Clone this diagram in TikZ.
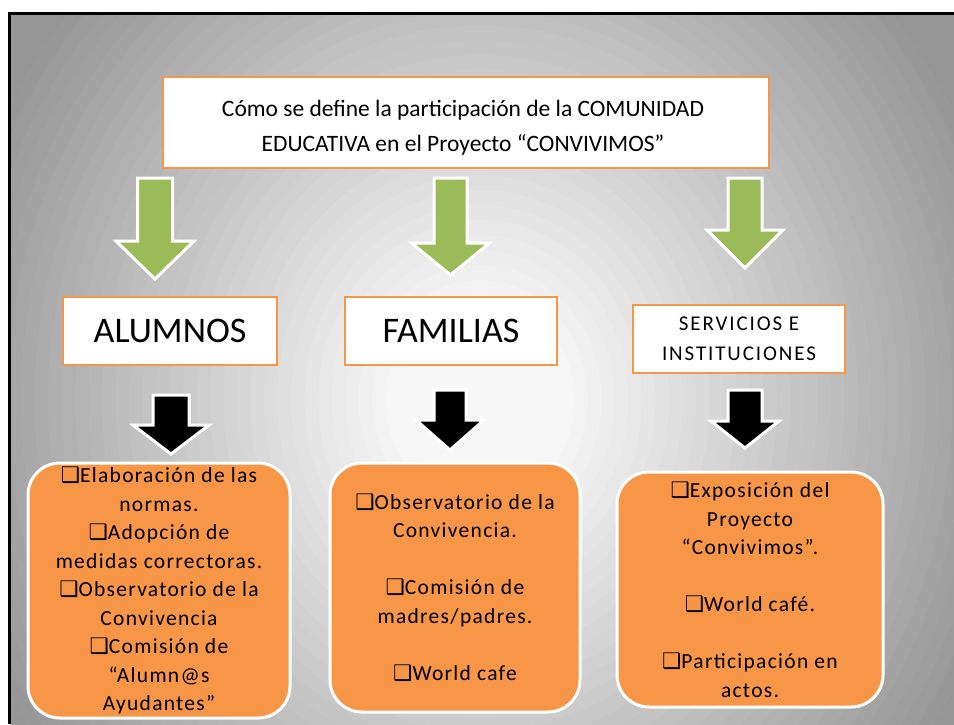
\documentclass[tikz,border=0pt]{standalone}
\usepackage{fontspec}
\setmainfont{Carlito}
\newfontfamily\dvs{DejaVu Sans}
\newfontfamily\spc[LetterSpace=6]{Carlito}
\newfontfamily\spcw[LetterSpace=9]{Carlito}
\definecolor{orng}{HTML}{F79646}
\definecolor{grn}{HTML}{9BBB59}
\newcommand\bx{{\dvs\char"2751}}
\newcommand\blockarrow[7]{%
  \filldraw[fill=#7, draw=white, line width=3pt, line join=miter]
    ({#1-#3},#2) -- ({#1+#3},#2) -- ({#1+#3},#4) -- ({#1+#5},#4) -- (#1,#6)
    -- ({#1-#5},#4) -- ({#1-#3},#4) -- cycle;}
\tikzset{
  headbox/.style={draw=orng, line width=2.5pt, fill=white, inner sep=0pt, align=center},
  itembox/.style={fill=orng, draw=white, line width=3pt, rounded corners=32pt,
    inner sep=0pt, align=center, font=\spc\fontsize{21.5}{28.5}\selectfont},
}
\begin{document}
\begin{tikzpicture}[x=1pt,y=-1pt]
\useasboundingbox (0,0) rectangle (954,724);
\fill[white] (0,0) rectangle (954,724);
\begin{scope}
  \clip (11,15) rectangle (954,724);
  \fill[black!41] (11,15) rectangle (954,724);
  \foreach \k in {46,45,...,1}{%
    \pgfmathsetmacro\rr{\k/40}%
    \pgfmathsetmacro\rm{(\k-0.5)/40}%
    \pgfmathsetmacro\pp{min(41, (\rm<0.15) ? 3 : 3+38*(\rm-0.15)/0.85)}%
    \fill[black!\pp] (480,400) ellipse [x radius={\rr*540}, y radius={\rr*600}];
  }
\end{scope}
\fill[black] (8,12) rectangle (954,15);
\fill[black] (8,12) rectangle (11,724);

% title
\node[headbox, minimum width=606pt, minimum height=91pt] (top) at (466,122.5) {};
\node[align=center, inner sep=0pt, font=\fontsize{23.5}{35}\selectfont]
  (toptext) at ([yshift=-5pt,xshift=-3pt]top.center)
  {Cómo se define la participación de la COMUNIDAD\\EDUCATIVA en el Proyecto “CONVIVIMOS”};

% green arrows
\blockarrow{155}{178}{17.5}{241}{39}{279}{grn}
\blockarrow{450.5}{178}{16.5}{243}{39}{275}{grn}
\blockarrow{745}{178}{17}{230}{38}{268}{grn}

% groups
\node[headbox, minimum width=214pt, minimum height=68pt,
  font=\fontsize{36}{40}\selectfont] (alu) at (170,331) {ALUMNOS};
\node[headbox, minimum width=212pt, minimum height=68pt,
  font=\fontsize{36}{40}\selectfont] (fam) at (451,331) {FAMILIAS};
\node[headbox, minimum width=212pt, minimum height=68pt,
  font=\spcw\fontsize{21}{30}\selectfont] (ser) at (739,339) {SERVICIOS E\\INSTITUCIONES};

% black arrows
\blockarrow{171}{395}{18}{425}{38}{454}{black}
\blockarrow{450}{390}{16}{420}{34}{450}{black}
\blockarrow{745}{390}{17}{421}{34}{448}{black}

% item boxes
\node[itembox, minimum width=262pt, minimum height=255pt] (bl) at (159,590.5)
  {\bx Elaboración de las\\normas.\\\bx Adopción de\\medidas correctoras.\\\bx Observatorio de la\\Convivencia\\\bx Comisión de\\“Alumn@s\\Ayudantes”};
\node[itembox, minimum width=250pt, minimum height=249pt] (bm) at (455,587.5)
  {\bx Observatorio de la\\Convivencia.\\[28.5pt]\bx Comisión de\\madres/padres.\\[28.5pt]\bx World cafe};
\node[itembox, minimum width=266pt, minimum height=235pt] (br) at (750,589.5)
  {\bx Exposición del\\Proyecto\\“Convivimos”.\\[28.5pt]\bx World café.\\[28.5pt]\bx Participación en\\actos.};
\end{tikzpicture}
\end{document}
